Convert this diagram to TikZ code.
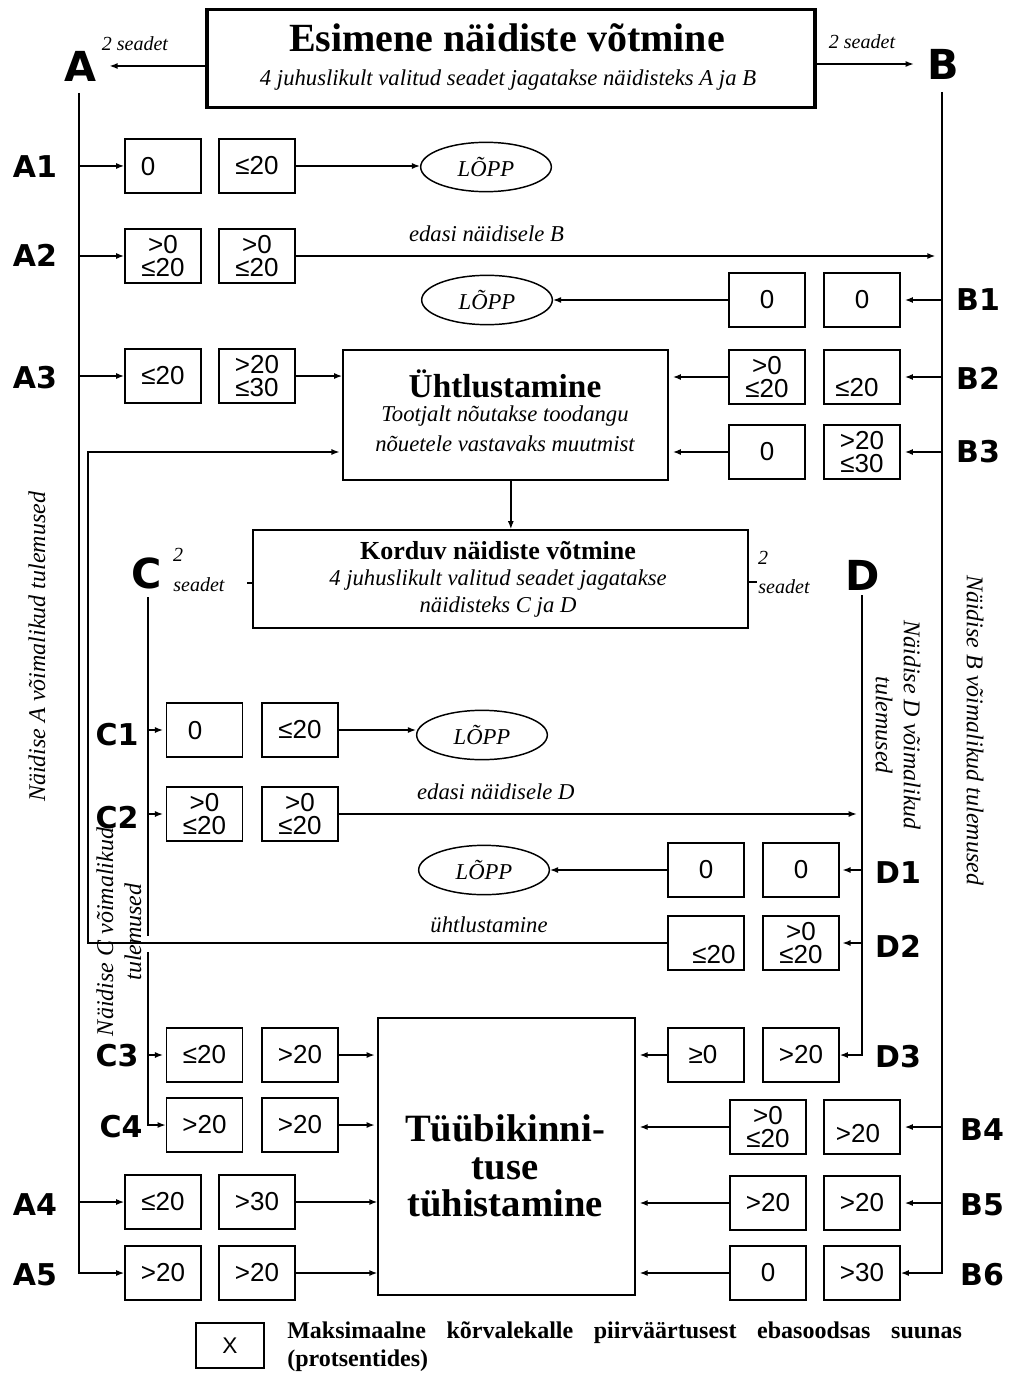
\documentclass[tikz,border=0pt]{standalone}
\usepackage{fontspec}
\setmainfont{Liberation Serif}
\setsansfont{Liberation Sans}
\newfontfamily\labfont{DejaVu Sans}
\usetikzlibrary{arrows.meta,shapes.geometric}
\tikzset{
 ln/.style={line width=1pt},
 arr/.style={line width=1pt,-{Latex[length=6pt,width=4.5pt]}},
 vbox/.style={draw,line width=1.3pt,minimum width=57pt,minimum height=40pt,inner sep=0pt,font=\sffamily\fontsize{19.5}{17.5}\selectfont,align=center},
 numtxt/.style={inner sep=0pt,font=\sffamily\fontsize{19.5}{17.5}\selectfont,align=center},
 lop/.style={draw,ellipse,line width=1.1pt,minimum width=98pt,minimum height=37pt,inner sep=0pt,font=\itshape\fontsize{17}{18}\selectfont},
 rlab/.style={inner sep=1pt,font=\labfont\bfseries\fontsize{22.5}{23}\selectfont},
 bigl/.style={inner sep=1pt,font=\labfont\bfseries\fontsize{31}{31}\selectfont},
 itx/.style={inner sep=0pt,font=\itshape\fontsize{17}{19}\selectfont,align=center},
 itsm/.style={inner sep=0pt,font=\itshape\fontsize{15}{17}\selectfont,align=center},
 subt/.style={inner sep=0pt,font=\itshape\fontsize{17}{19}\selectfont},
 ttl/.style={inner sep=0pt,font=\bfseries\fontsize{30}{30}\selectfont},
 rot/.style={inner sep=0pt,font=\itshape\fontsize{18}{21}\selectfont,align=center},
 framebox/.style={draw,line width=1.3pt,inner sep=0pt},
 legtxt/.style={inner sep=0pt,anchor=west,font=\bfseries\fontsize{18}{20}\selectfont},
}
\begin{document}
\begin{tikzpicture}[x=0.75pt,y=-0.75pt]
\useasboundingbox (0,0) rectangle (1009,1376);

% ---------- top box ----------
\node[framebox,line width=2.4pt,minimum width=456pt,minimum height=73pt] (top) at (511,58.5) {};
\node[ttl] (toptitle) at (507,38) {Esimene näidiste võtmine};
\node[subt] (topsub) at (508,80) {4 juhuslikult valitud seadet jagatakse näidisteks A ja B};
\node[bigl] (A) at (80,66) {A};
\node[bigl] (B) at (943,64) {B};
\draw[arr,shorten >=9pt] (top.west |- A) -- (A.east);
\draw[arr,shorten >=9pt] (top.east |- B) -- (B.west);
\node[itsm] (sA) at (135,44) {2 seadet};
\node[itsm] (sB) at (862,42) {2 seadet};

% ---------- row labels ----------
\node[rlab] (lA1) at (35,167) {A1};
\node[rlab] (lA2) at (35,255) {A2};
\node[rlab] (lA3) at (35,378) {A3};
\node[rlab] (lA4) at (35,1205) {A4};
\node[rlab] (lA5) at (35,1275) {A5};
\node[rlab] (lB1) at (978,300) {B1};
\node[rlab] (lB2) at (978,378) {B2};
\node[rlab] (lB3) at (978,452) {B3};
\node[rlab] (lB4) at (982,1130) {B4};
\node[rlab] (lB5) at (982,1205) {B5};
\node[rlab] (lB6) at (982,1275) {B6};
\node[rlab] (lC1) at (117,735) {C1};
\node[rlab] (lC2) at (117,818) {C2};
\node[rlab] (lC3) at (117,1056) {C3};
\node[rlab] (lC4) at (121,1127) {C4};
\node[rlab] (lD1) at (898,873) {D1};
\node[rlab] (lD2) at (898,946) {D2};
\node[rlab] (lD3) at (898,1057) {D3};

% ---------- A boxes ----------
\node[vbox] (a1l) at (163,166) {};
\node[numtxt] (ta1l) at (148,167) {0};
\node[vbox] (a1r) at (257,166) {≤20};
\node[vbox] (a2l) at (163,256) {>0\\≤20};
\node[vbox] (a2r) at (257,256) {>0\\≤20};
\node[vbox] (a3l) at (163,376) {≤20};
\node[vbox] (a3r) at (257,376) {>20\\≤30};
\node[vbox] (a4l) at (163,1202) {≤20};
\node[vbox] (a4r) at (257,1202) {>30};
\node[vbox] (a5l) at (163,1273) {>20};
\node[vbox] (a5r) at (257,1273) {>20};

% ---------- B boxes ----------
\node[vbox] (b1l) at (767,300) {0};
\node[vbox] (b1r) at (862,300) {0};
\node[vbox] (b2l) at (767,377) {>0\\≤20};
\node[vbox] (b2r) at (862,377) {};
\node[numtxt] (tb2r) at (857,388) {≤20};
\node[vbox] (b3l) at (767,452) {0};
\node[vbox] (b3r) at (862,452) {>20\\≤30};
\node[vbox] (b4l) at (768,1127) {>0\\≤20};
\node[vbox] (b4r) at (862,1127) {};
\node[numtxt] (tb4r) at (858,1134) {>20};
\node[vbox] (b5l) at (768,1203) {>20};
\node[vbox] (b5r) at (862,1203) {>20};
\node[vbox] (b6l) at (768,1273) {0};
\node[vbox] (b6r) at (862,1273) {>30};

% ---------- C boxes ----------
\node[vbox] (c1l) at (204.5,730) {};
\node[numtxt] (tc1l) at (195,731) {0};
\node[vbox] (c1r) at (300,730) {≤20};
\node[vbox] (c2l) at (204.5,814) {>0\\≤20};
\node[vbox] (c2r) at (300,814) {>0\\≤20};
\node[vbox] (c3l) at (204.5,1055) {≤20};
\node[vbox] (c3r) at (300,1055) {>20};
\node[vbox] (c4l) at (204.5,1125) {>20};
\node[vbox] (c4r) at (300,1125) {>20};

% ---------- D boxes ----------
\node[vbox] (d1l) at (706,870) {0};
\node[vbox] (d1r) at (801,870) {0};
\node[vbox] (d2l) at (706,943) {};
\node[numtxt] (td2l) at (714,955) {≤20};
\node[vbox] (d2r) at (801,943) {>0\\≤20};
\node[vbox] (d3l) at (706,1055) {};
\node[numtxt] (td3l) at (703,1055) {≥0};
\node[vbox] (d3r) at (801,1055) {>20};

% ---------- end ellipses ----------
\node[lop] (lop1) at (486,167) {LÕPP};
\node[lop] (lop2) at (487,300) {LÕPP};
\node[lop] (lop3) at (482,735) {LÕPP};
\node[lop] (lop4) at (484,870) {LÕPP};

% ---------- Ühtlustamine ----------
\node[framebox,minimum width=243.75pt,minimum height=97.5pt] (uht) at (505.5,415) {};
\node[inner sep=0pt,font=\bfseries\fontsize{25}{25}\selectfont] (uhttitle) at (505,384) {Ühtlustamine};
\node[itx] (uhtsub1) at (505,416) {Tootjalt nõutakse toodangu};
\node[itx] (uhtsub2) at (505,444) {nõuetele vastavaks muutmist};

% ---------- Korduv ----------
\node[framebox,minimum width=371.25pt,minimum height=73.5pt] (kor) at (500.5,579) {};
\node[inner sep=0pt,font=\bfseries\fontsize{19.5}{20}\selectfont] (kortitle) at (498,551) {Korduv näidiste võtmine};
\node[itx] (korsub1) at (498,580) {4 juhuslikult valitud seadet jagatakse};
\node[itx] (korsub2) at (498,607) {näidisteks C ja D};
\node[bigl] (C) at (147,573) {C};
\node[bigl] (D) at (863,575) {D};
\node[itsm] (sC1) at (178,555) {2};
\node[itsm] (sC2) at (199,585) {seadet};
\node[itsm] (sD1) at (763,558) {2};
\node[itsm] (sD2) at (784,587) {seadet};
\draw[ln] (kor.west |- 0,583) -- ++(-5,0);
\draw[ln] (kor.east |- 0,582) -- ++(8,0);

% ---------- Tüübikinnituse tühistamine ----------
\node[framebox,line width=1pt,minimum width=192.75pt,minimum height=207.75pt] (tub) at (506.5,1156.5) {};
\node[inner sep=0pt,align=center,font=\bfseries\fontsize{29}{28}\selectfont] (tubtxt) at (505,1166) {Tüübikinni-\\tuse\\tühistamine};

% ---------- rotated texts ----------
\node[rot,rotate=90] (rA) at (37,647) {Näidise A võimalikud tulemused};
\node[rot,rotate=-90] (rB) at (975,730) {Näidise B võimalikud tulemused};
\node[rot,rotate=-90] (rD) at (898,725) {Näidise D võimalikud\\tulemused};
\node[rot,rotate=90] (rC) at (119,932) {Näidise C võimalikud\\tulemused};

% ---------- main vertical lines ----------
\coordinate (Atop) at (79,93);
\coordinate (Btop) at (942,92);
\coordinate (Ctop) at (148,597);
\coordinate (Cg1) at (148,936);
\coordinate (Cg2) at (148,952);
\coordinate (Dtop) at (862,595);
\coordinate (Itop) at (88,452);
\draw[arr] (Atop) |- (a5l.west);
\draw[arr] (Btop) |- (b6r.east);
\draw[ln] (Ctop) -- (Cg1);
\draw[arr] (Cg2) |- (c4l.west);
\draw[arr] (Dtop) |- (d3r.east);

% ---------- A connectors ----------
\draw[arr] (a1l.west -| Atop) -- (a1l.west);
\draw[arr] (a2l.west -| Atop) -- (a2l.west);
\draw[arr] (a3l.west -| Atop) -- (a3l.west);
\draw[arr] (a4l.west -| Atop) -- (a4l.west);
\draw[arr] (a1r.east) -- (a1r.east -| lop1.west);
\draw[arr,shorten >=5pt] (a2r.east) -- (a2r.east -| Btop)
  node[itx,pos=0.295,above=10pt] (edB) {edasi näidisele B};
\draw[arr] (a3r.east) -- (a3r.east -| uht.west);
\draw[arr] (a4r.east) -- (a4r.east -| tub.west);
\draw[arr] (a5r.east) -- (a5r.east -| tub.west);

% ---------- B connectors ----------
\draw[arr,shorten >=3pt] (b1r.east -| Btop) -- (b1r.east);
\draw[arr,shorten >=3pt] (b2r.east -| Btop) -- (b2r.east);
\draw[arr,shorten >=3pt] (b3r.east -| Btop) -- (b3r.east);
\draw[arr,shorten >=3pt] (b4r.east -| Btop) -- (b4r.east);
\draw[arr,shorten >=3pt] (b5r.east -| Btop) -- (b5r.east);
\draw[arr] (b1l.west) -- (b1l.west -| lop2.east);
\draw[arr,shorten >=3pt] (b2l.west) -- (b2l.west -| uht.east);
\draw[arr,shorten >=3pt] (b3l.west) -- (b3l.west -| uht.east);
\draw[arr,shorten >=3pt] (b4l.west) -- (b4l.west -| tub.east);
\draw[arr,shorten >=3pt] (b5l.west) -- (b5l.west -| tub.east);
\draw[arr,shorten >=3pt] (b6l.west) -- (b6l.west -| tub.east);

% ---------- Ühtl -> Korduv ----------
\draw[arr] ([xshift=4pt]uht.south) -- ([xshift=4pt]uht.south |- kor.north);

% ---------- C connectors ----------
\draw[arr,shorten >=2pt] (c1l.west -| Ctop) -- (c1l.west);
\draw[arr,shorten >=2pt] (c2l.west -| Ctop) -- (c2l.west);
\draw[arr,shorten >=2pt] (c3l.west -| Ctop) -- (c3l.west);
\draw[arr] (c1r.east) -- (c1r.east -| lop3.west);
\draw[arr,shorten >=4pt] (c2r.east) -- (c2r.east -| Dtop)
  node[itx,pos=0.3,above=10pt] (edD) {edasi näidisele D};
\draw[arr,shorten >=2pt] (c3r.east) -- (c3r.east -| tub.west);
\draw[arr,shorten >=2pt] (c4r.east) -- (c4r.east -| tub.west);

% ---------- D connectors ----------
\draw[arr,shorten >=2pt] (d1r.east -| Dtop) -- (d1r.east);
\draw[arr,shorten >=2pt] (d2r.east -| Dtop) -- (d2r.east);
\draw[arr] (d1l.west) -- (d1l.west -| lop4.east);
\draw[arr,shorten >=3pt] (d3l.west) -- (d3l.west -| tub.east);
\draw[arr,shorten >=2pt] (d2l.west) -| (Itop) -- (Itop -| uht.west);
\node[itx] (uhtl) at (489,925) {ühtlustamine};

% ---------- legend ----------
\node[framebox,minimum width=51pt,minimum height=34pt,font=\sffamily\fontsize{17}{17}\selectfont] (leg) at (230,1345.5) {X};
\node[legtxt] (legt1) at (287,1333) {\makebox[506pt][s]{Maksimaalne kõrvalekalle piirväärtusest ebasoodsas suunas}};
\node[legtxt] (legt2) at (287,1361) {(protsentides)};
\end{tikzpicture}
\end{document}
